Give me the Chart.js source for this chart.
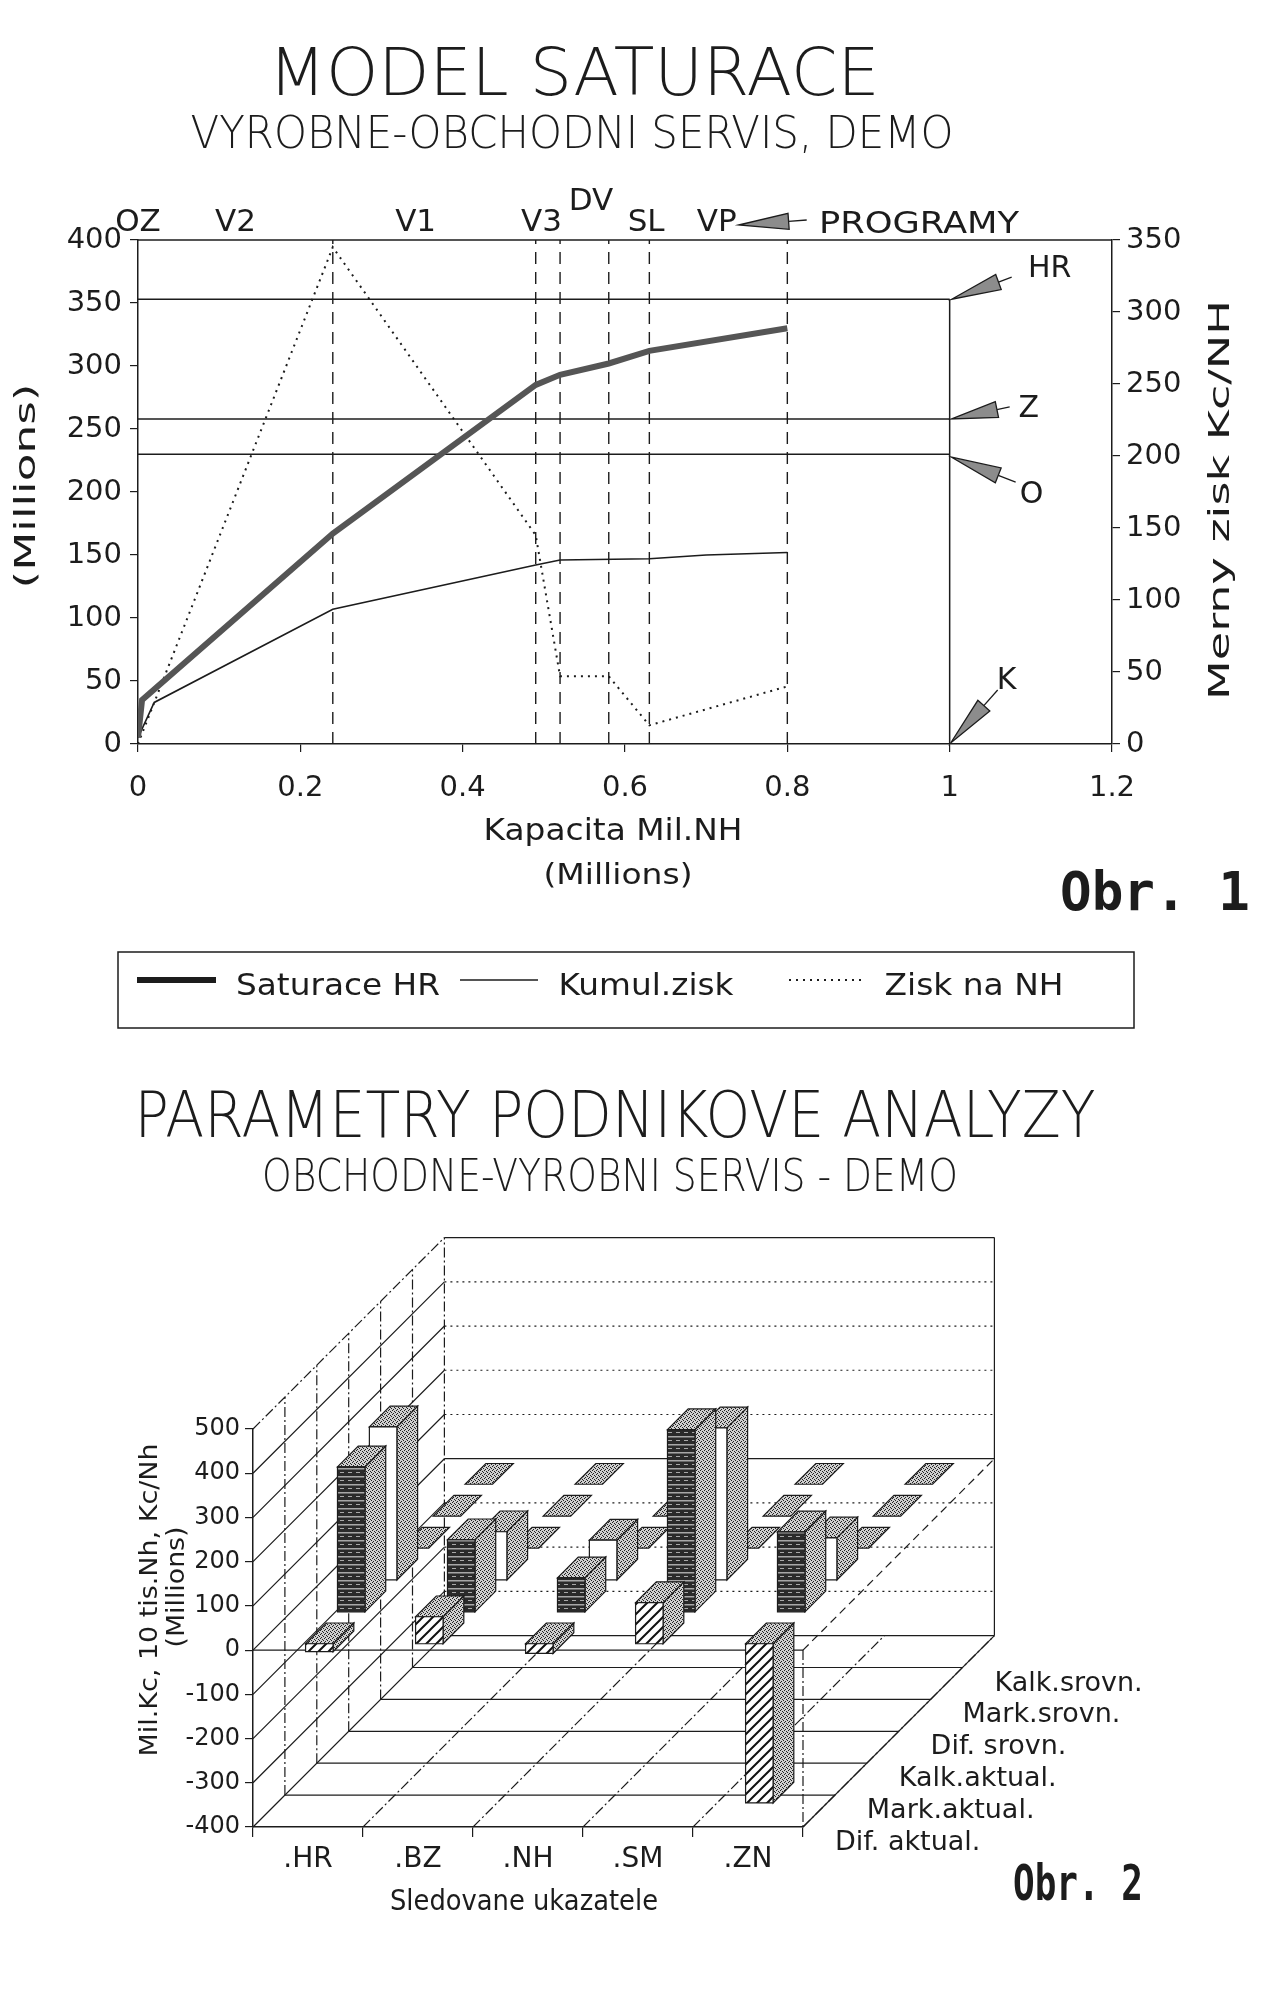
<!DOCTYPE html>
<html>
<head>
<meta charset="utf-8">
<script src="https://cdn.jsdelivr.net/npm/chart.js@4.4.0/dist/chart.umd.min.js"></script>
<style>
    html, body { margin: 0; padding: 0; background: #fff; }
    #page { position: relative; width: 1278px; height: 2011px; overflow: hidden; }
    canvas { position: absolute; left: 0; }
    #saturace { top: 0; }
    #analyza { top: 1050px; }
</style>
</head>
<body>
<div id="page">
    <canvas id="saturace" width="1278" height="1050"></canvas>
    <canvas id="analyza" width="1278" height="961"></canvas>
</div>
<script>
// ── OBR. 1 — MODEL SATURACE ─────────────────────────────────────────────
const satX  = [0, 0.005, 0.24, 0.49, 0.52, 0.58, 0.63, 0.8];
const satY  = [5, 35, 167, 285, 293, 302, 312, 330];          // Saturace HR (Millions)
const kumX  = [0, 0.02, 0.24, 0.49, 0.52, 0.63, 0.7, 0.8];
const kumY  = [5, 33, 107, 142, 146, 147, 150, 152];          // Kumul.zisk (Millions)
const ziskX = [0, 0.24, 0.49, 0.52, 0.58, 0.63, 0.8];
const ziskY = [0, 345, 145, 47, 47, 13, 40];                  // Zisk na NH (Kc/NH, right axis)

const phaseX      = [0.24, 0.49, 0.52, 0.58, 0.63, 0.8];      // dashed program boundaries
const regionNames = ['OZ', 'V2', 'V1', 'V3', 'DV', 'SL', 'VP'];
const regionX     = [0, 0.12, 0.342, 0.497, 0.558, 0.626, 0.713];
const levelNames  = ['HR', 'Z', 'O'];
const levelY      = [353, 258, 230];
const levelEndX   = 1;

const capMax = 1.2, leftMax = 400, rightMax = 350;

// ── OBR. 2 — PARAMETRY PODNIKOVE ANALYZY ────────────────────────────────
const ukazatele  = ['.HR', '.BZ', '.NH', '.SM', '.ZN'];
const rowNames   = ['Dif. aktual.', 'Mark.aktual.', 'Kalk.aktual.', 'Dif. srovn.', 'Mark.srovn.', 'Kalk.srovn.'];
const difAktual  = [-18, 61, -22, 93, -360];
const markAktual = [328, 163, 77, 412, 181];
const kalkAktual = [346, 109, 90, 344, 95];
const difSrovn   = [0, 0, 0, 0, 0];
const markSrovn  = [0, 0, 0, 0, 0];
const kalkSrovn  = [0, 0, 0, 0, 0];
const valueMin = -400, valueMax = 500;

const INK = '#1c1c1c';
const FONT = "'DejaVu Sans', 'Liberation Sans', sans-serif";
const MONO = "'DejaVu Sans Mono', 'Liberation Mono', monospace";

// helpers
const pts = (xs, ys) => xs.map((x, i) => ({ x, y: ys[i] }));

function text(ctx, str, cx, cy, size, width, opt = {}) {
    ctx.save();
    ctx.font = (opt.weight || 'normal') + ' ' + size + 'px ' + (opt.family || FONT);
    ctx.fillStyle = INK;
    ctx.textAlign = 'center';
    ctx.textBaseline = opt.baseline || 'alphabetic';
    const w = ctx.measureText(str).width;
    ctx.translate(cx, cy);
    if (opt.rotate) ctx.rotate(opt.rotate);
    if (width) ctx.scale(width / w, 1);
    ctx.fillText(str, 0, 0);
    ctx.restore();
}

function seg(ctx, p, q, dash, width) {
    ctx.save();
    ctx.strokeStyle = INK;
    ctx.lineWidth = width || 1.2;
    ctx.setLineDash(dash || []);
    ctx.beginPath();
    ctx.moveTo(p[0], p[1]);
    ctx.lineTo(q[0], q[1]);
    ctx.stroke();
    ctx.restore();
}

function arrow(ctx, tx, ty, hx, hy) {
    const ang = Math.atan2(hy - ty, hx - tx);
    const len = Math.hypot(hx - tx, hy - ty);
    const headL = Math.min(50, len * 0.78), headW = 8;
    const bx = hx - Math.cos(ang) * headL, by = hy - Math.sin(ang) * headL;
    const nx = -Math.sin(ang) * headW, ny = Math.cos(ang) * headW;
    ctx.save();
    ctx.strokeStyle = INK;
    ctx.lineWidth = 1.3;
    ctx.beginPath(); ctx.moveTo(tx, ty); ctx.lineTo(bx, by); ctx.stroke();
    ctx.beginPath();
    ctx.moveTo(hx, hy); ctx.lineTo(bx + nx, by + ny); ctx.lineTo(bx - nx, by - ny); ctx.closePath();
    ctx.fillStyle = '#8c8c8c';
    ctx.fill(); ctx.stroke();
    ctx.restore();
}

function pattern(ctx, w, h, paint) {
    const c = document.createElement('canvas');
    c.width = w; c.height = h;
    paint(c.getContext('2d'));
    return ctx.createPattern(c, 'repeat');
}

const tickFont = size => ({ family: FONT, size });

// ── CHART 1 DECORATION ──────────────────────────────────────────────────
const saturaceDecor = {
    id: 'saturaceDecor',
    afterDraw(chart) {
        const { ctx, chartArea: a, scales: { x, y } } = chart;

        // frame top
        seg(ctx, [a.left, a.top], [a.right, a.top], [], 1.5);

        // titles
        text(ctx, 'MODEL SATURACE', 574, 95, 66, 611, { weight: '200' });
        text(ctx, 'VYROBNE-OBCHODNI SERVIS, DEMO', 572, 148, 45, 763, { weight: '200' });

        // program region labels along the top
        regionNames.forEach((name, i) => {
            const base = name === 'DV' ? 210 : 231;
            text(ctx, name, x.getPixelForValue(regionX[i]), base, 31);
        });
        const vp = x.getPixelForValue(regionX[regionNames.length - 1]);
        arrow(ctx, vp + 90, 220, vp + 22, 225);
        text(ctx, 'PROGRAMY', 919, 233, 31, 200);

        // level arrows at capacity 1
        const tipX = x.getPixelForValue(levelEndX);
        const hr = y.getPixelForValue(levelY[0]);
        arrow(ctx, tipX + 62, hr - 22, tipX + 2, hr);
        text(ctx, levelNames[0], tipX + 100, hr - 22, 30);
        const z = y.getPixelForValue(levelY[1]);
        arrow(ctx, tipX + 60, z - 12, tipX + 2, z);
        text(ctx, levelNames[1], tipX + 79, z - 2, 30);
        const o = y.getPixelForValue(levelY[2]);
        arrow(ctx, tipX + 66, o + 28, tipX + 2, o + 3);
        text(ctx, levelNames[2], tipX + 82, o + 49, 30);
        const k = y.getPixelForValue(0);
        arrow(ctx, tipX + 48, k - 54, tipX + 1, k - 1);
        text(ctx, 'K', tipX + 57, k - 55, 30);

        // axis titles
        text(ctx, '(Millions)', 28, (a.top + a.bottom) / 2 - 6, 28, 205, { rotate: -Math.PI / 2, baseline: 'middle' });
        text(ctx, 'Merny zisk Kc/NH', 1222, (a.top + a.bottom) / 2 + 8, 28, 400, { rotate: -Math.PI / 2, baseline: 'middle' });
        text(ctx, 'Kapacita Mil.NH', 613, 840, 30, 259);
        text(ctx, '(Millions)', 618, 884, 28, 149);

        text(ctx, 'Obr. 1', 1155, 910, 54, 190, { weight: 'bold', family: MONO });

        // boxed legend
        ctx.save();
        ctx.strokeStyle = INK;
        ctx.lineWidth = 1.5;
        ctx.strokeRect(118, 952, 1016, 76);
        ctx.restore();
        const sampleX = [[137, 216], [460, 538], [789, 864]];
        const labelX = [[338, 204], [646, 175], [974, 179]];
        chart.data.datasets.slice(0, 3).forEach((ds, i) => {
            seg(ctx, [sampleX[i][0], 980], [sampleX[i][1], 980], ds.borderDash, ds.borderWidth);
            text(ctx, ds.label, labelX[i][0], 995, 30, labelX[i][1]);
        });
    }
};

const lineStyle = { pointRadius: 0, fill: false, tension: 0 };
const datasets1 = [
    { label: 'Saturace HR', data: pts(satX, satY), borderColor: '#555', borderWidth: 6, yAxisID: 'y', ...lineStyle },
    { label: 'Kumul.zisk', data: pts(kumX, kumY), borderColor: INK, borderWidth: 1.6, yAxisID: 'y', ...lineStyle },
    { label: 'Zisk na NH', data: pts(ziskX, ziskY), borderColor: INK, borderWidth: 2, borderDash: [2, 5], yAxisID: 'y2', ...lineStyle }
];
phaseX.forEach(px => datasets1.push({
    label: '', data: [{ x: px, y: 0 }, { x: px, y: leftMax }],
    borderColor: INK, borderWidth: 1.4, borderDash: [12, 8], yAxisID: 'y', ...lineStyle
}));
levelY.forEach(ly => datasets1.push({
    label: '', data: [{ x: 0, y: ly }, { x: levelEndX, y: ly }],
    borderColor: INK, borderWidth: 1.5, yAxisID: 'y', ...lineStyle
}));
datasets1.push({
    label: '', data: [{ x: levelEndX, y: 0 }, { x: levelEndX, y: levelY[0] }],
    borderColor: INK, borderWidth: 1.5, yAxisID: 'y', ...lineStyle
});

new Chart(document.getElementById('saturace').getContext('2d'), {
    type: 'line',
    data: { datasets: datasets1 },
    options: {
        responsive: false,
        animation: false,
        devicePixelRatio: 1,
        layout: { padding: { top: 240, left: 0, right: 0, bottom: 206 } },
        plugins: { legend: { display: false }, tooltip: { enabled: false } },
        scales: {
            x: {
                type: 'linear', min: 0, max: capMax,
                ticks: { stepSize: 0.2, font: tickFont(29), color: INK, padding: 19,
                         callback: v => String(+v.toFixed(1)) },
                grid: { drawOnChartArea: false, tickLength: 8, color: INK, lineWidth: 1.2 },
                border: { color: INK, width: 1.5 },
                afterFit: s => { s.height = 100; }
            },
            y: {
                min: 0, max: leftMax,
                ticks: { stepSize: 50, font: tickFont(29), color: INK, padding: 8 },
                grid: { drawOnChartArea: false, tickLength: 8, color: INK, lineWidth: 1.2 },
                border: { color: INK, width: 1.5 },
                afterFit: s => { s.width = 138; }
            },
            y2: {
                position: 'right', min: 0, max: rightMax,
                ticks: { stepSize: 50, font: tickFont(29), color: INK, padding: 6 },
                grid: { drawOnChartArea: false, tickLength: 8, color: INK, lineWidth: 1.2 },
                border: { color: INK, width: 1.5 },
                afterFit: s => { s.width = 166; }
            }
        }
    },
    plugins: [saturaceDecor]
});

// ── CHART 2 — 3D BOXES, WALLS, LABELS ───────────────────────────────────
const rowFront = ['hatch', 'dark', 'white', 'hatch', 'dark', 'white'];

const depth3d = {
    id: 'depth3d',
    afterDatasetsDraw(chart) {
        const { ctx, chartArea: a, scales: { x, y } } = chart;
        const cats = chart.data.labels.length;
        const rows = chart.data.datasets.length;
        const catW = (a.right - a.left) / cats;
        const step = catW * 0.29;
        const P = (px, v, zz) => [px + zz * step, y.getPixelForValue(v) - zz * step];
        const DOT = [2, 4], DASHDOT = [10, 3, 2, 3], DASH = [8, 5];
        const ticks = y.ticks.map(t => t.value);

        // back wall
        ticks.forEach(v => seg(ctx, P(a.left, v, rows), P(a.right, v, rows),
            (v === 0 || v === y.max || v === y.min) ? [] : DOT));
        seg(ctx, P(a.right, y.max, rows), P(a.right, y.min, rows));
        // left wall
        ticks.forEach(v => seg(ctx, P(a.left, v, 0), P(a.left, v, rows), v === y.max ? DASHDOT : []));
        for (let zz = 1; zz <= rows; zz++) seg(ctx, P(a.left, y.min, zz), P(a.left, y.max, zz), DASHDOT);
        // floor
        for (let zz = 1; zz < rows; zz++) seg(ctx, P(a.left, y.min, zz), P(a.right, y.min, zz));
        for (let b = 1; b <= cats; b++) seg(ctx, P(a.left + b * catW, y.min, 0), P(a.left + b * catW, y.min, rows), DASHDOT);
        seg(ctx, P(a.right, y.min, 0), P(a.right, y.min, rows));
        // zero plane
        seg(ctx, P(a.left, 0, 0), P(a.right, 0, 0));
        seg(ctx, P(a.right, 0, 0), P(a.right, 0, rows), DASH);
        seg(ctx, P(a.right, 0, 0), P(a.right, y.min, 0), DASHDOT);

        const fills = {
            stipple: pattern(ctx, 4, 4, g => {
                g.fillStyle = '#cfcfcf'; g.fillRect(0, 0, 4, 4);
                g.fillStyle = '#222';
                g.fillRect(0, 0, 1, 1); g.fillRect(2, 1, 1, 1); g.fillRect(1, 3, 1, 1); g.fillRect(3, 2, 1, 1);
            }),
            hatch: pattern(ctx, 10, 10, g => {
                g.fillStyle = '#fff'; g.fillRect(0, 0, 10, 10);
                g.strokeStyle = '#111'; g.lineWidth = 2;
                g.beginPath();
                g.moveTo(0, 10); g.lineTo(10, 0);
                g.moveTo(-5, 5); g.lineTo(5, -5);
                g.moveTo(5, 15); g.lineTo(15, 5);
                g.stroke();
            }),
            dark: pattern(ctx, 8, 8, g => {
                g.fillStyle = '#2a2a2a'; g.fillRect(0, 0, 8, 8);
                g.fillStyle = '#a8a8a8'; g.fillRect(0, 2, 8, 1.5); g.fillRect(4, 6, 4, 1);
            }),
            white: '#ffffff'
        };

        const face = (pts4, fill) => {
            ctx.save();
            ctx.beginPath();
            pts4.forEach((p, i) => i ? ctx.lineTo(p[0], p[1]) : ctx.moveTo(p[0], p[1]));
            ctx.closePath();
            ctx.fillStyle = fill;
            ctx.fill();
            ctx.strokeStyle = INK;
            ctx.lineWidth = 1.2;
            ctx.stroke();
            ctx.restore();
        };

        // boxes, back row first
        for (let d = rows - 1; d >= 0; d--) {
            chart.data.datasets[d].data.forEach((v, i) => {
                const x0 = x.getPixelForValue(i) - catW * 0.08;
                const w = catW * 0.25;
                const z0 = d + 0.2, z1 = d + 0.85;
                const top = Math.max(v, 0), bot = Math.min(v, 0);
                if (top !== bot) face([P(x0 + w, top, z0), P(x0 + w, top, z1), P(x0 + w, bot, z1), P(x0 + w, bot, z0)], fills.stipple);
                face([P(x0, top, z0), P(x0 + w, top, z0), P(x0 + w, top, z1), P(x0, top, z1)], fills.stipple);
                if (top !== bot) face([P(x0, top, z0), P(x0 + w, top, z0), P(x0 + w, bot, z0), P(x0, bot, z0)], fills[rowFront[d]]);
            });
        }

        // depth (series) labels along the right floor edge
        chart.data.datasets.forEach((ds, d) => {
            const p = P(a.right, y.min, d);
            ctx.save();
            ctx.font = '27px ' + FONT;
            ctx.fillStyle = INK;
            ctx.textAlign = 'left';
            ctx.fillText(ds.label, p[0] + step, p[1] + 23);
            ctx.restore();
        });
    },
    afterDraw(chart) {
        const { ctx } = chart;
        text(ctx, 'PARAMETRY PODNIKOVE ANALYZY', 615, 87, 64, 961, { weight: '200' });
        text(ctx, 'OBCHODNE-VYROBNI SERVIS - DEMO', 610, 141, 44, 696, { weight: '200' });
        text(ctx, 'Mil.Kc, 10 tis.Nh, Kc/Nh', 150, 550, 25, 313, { rotate: -Math.PI / 2, baseline: 'middle' });
        text(ctx, '(Millions)', 177, 537, 25, 121, { rotate: -Math.PI / 2, baseline: 'middle' });
        text(ctx, 'Sledovane ukazatele', 524, 860, 28, 268);
        text(ctx, 'Obr. 2', 1078, 850, 50, 130, { weight: 'bold', family: MONO });
    }
};

const rowValues = [difAktual, markAktual, kalkAktual, difSrovn, markSrovn, kalkSrovn];

new Chart(document.getElementById('analyza').getContext('2d'), {
    type: 'bar',
    data: {
        labels: ukazatele,
        datasets: rowNames.map((label, d) => ({
            label,
            data: rowValues[d],
            backgroundColor: 'rgba(0,0,0,0)',
            borderWidth: 0
        }))
    },
    options: {
        responsive: false,
        animation: false,
        devicePixelRatio: 1,
        layout: { padding: { top: 379, left: 0, right: 475, bottom: 94 } },
        plugins: { legend: { display: false }, tooltip: { enabled: false } },
        scales: {
            x: {
                ticks: { font: tickFont(28), color: INK, padding: 6, maxRotation: 0 },
                grid: { offset: true, drawOnChartArea: false, tickLength: 10, color: INK, lineWidth: 1.2 },
                border: { color: INK, width: 1.5 },
                afterFit: s => { s.height = 90; }
            },
            y: {
                min: valueMin, max: valueMax,
                ticks: { stepSize: 100, font: tickFont(24), color: INK, padding: 5 },
                grid: { drawOnChartArea: false, tickLength: 8, color: INK, lineWidth: 1.2 },
                border: { color: INK, width: 1.5 },
                afterFit: s => { s.width = 253; }
            }
        }
    },
    plugins: [depth3d]
});
</script>
</body>
</html>
